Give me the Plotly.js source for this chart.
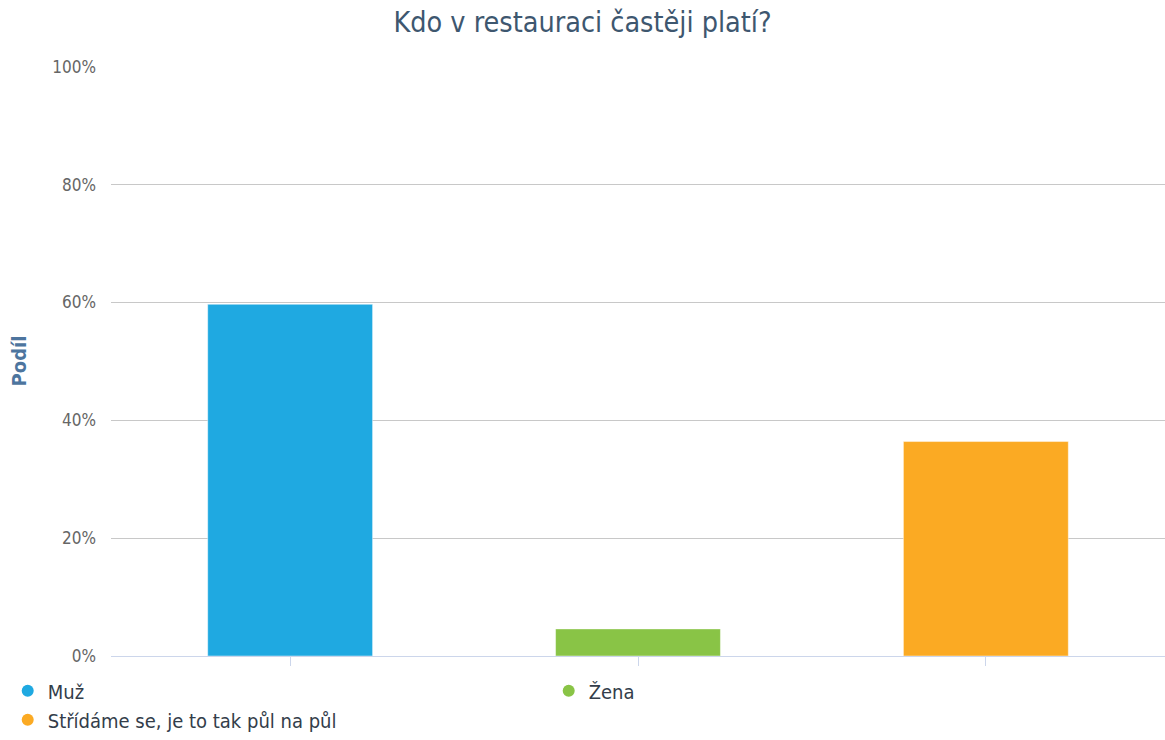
<!DOCTYPE html>
<html>
<head>
<meta charset="utf-8">
<script src="https://cdn.plot.ly/plotly-3.0.1.min.js"></script>
<style>html,body{margin:0;padding:0;background:#fff;}#chart{width:1165px;height:740px;}</style>
</head>
<body>
<div id="chart"></div>
<script>
const categories = ["Muž", "Žena", "Střídáme se, je to tak půl na půl"];
const values = [59.7, 4.6, 36.4];
const colors = ["#1fa9e1", "#89c446", "#fbaa23"];
const yTicks = [0, 20, 40, 60, 80, 100];
const yTickLabels = ["0%", "20%", "40%", "60%", "80%", "100%"];

const FONT = "DejaVu Sans Condensed, DejaVu Sans, sans-serif";
const traces = [];
categories.forEach((c, i) => {
  traces.push({
    type: "bar",
    x: [i],
    y: [values[i]],
    name: c,
    width: 0.474,
    marker: {color: colors[i], line: {color: "rgba(255,255,255,0.45)", width: 1}},
    showlegend: false,
    hovertemplate: c + ": %{y}%<extra></extra>"
  });
});
categories.forEach((c, i) => {
  traces.push({
    type: "scatter",
    mode: "markers",
    x: [null],
    y: [null],
    name: c,
    marker: {color: colors[i], size: 15, symbol: "circle"},
    showlegend: true,
    hoverinfo: "skip"
  });
});

const layout = {
  width: 1165,
  height: 740,
  paper_bgcolor: "#fff",
  plot_bgcolor: "#fff",
  margin: {l: 111, r: 0, t: 66, b: 84},
  title: {
    text: "Kdo v restauraci častěji platí?",
    font: {family: FONT, size: 28.5, color: "#3e576f"},
    x: 0.5, xanchor: "center", y: 0.97, yanchor: "middle"
  },
  barmode: "overlay",
  xaxis: {
    range: [-0.515, 2.515],
    tickvals: [0, 1, 2],
    showticklabels: false,
    ticks: "outside",
    ticklen: 9,
    tickcolor: "#ccd6eb",
    showgrid: false,
    showline: true,
    linecolor: "#ccd6eb",
    linewidth: 1,
    zeroline: false,
    fixedrange: true
  },
  yaxis: {
    range: [0, 100.15],
    tickvals: yTicks,
    ticktext: yTickLabels,
    showgrid: true,
    gridcolor: "#c8c8c8",
    gridwidth: 1,
    zeroline: false,
    showline: false,
    ticklabelstandoff: 14,
    tickfont: {family: FONT, size: 17, color: "#666666"},
    title: {text: "<b>Podíl</b>", font: {family: FONT, size: 20, color: "#4d759e"}, standoff: 20},
    fixedrange: true
  },
  showlegend: true,
  legend: {
    orientation: "h",
    xref: "paper", yref: "paper",
    x: -0.098, y: -0.026, xanchor: "left", yanchor: "top",
    entrywidth: 496,
    entrywidthmode: "pixels",
    itemsizing: "constant",
    tracegroupgap: 0,
    font: {family: FONT, size: 20, color: "#333d4a"},
    bgcolor: "rgba(0,0,0,0)"
  }
};

Plotly.newPlot("chart", traces, layout, {displayModeBar: false, responsive: false});
</script>
</body>
</html>
